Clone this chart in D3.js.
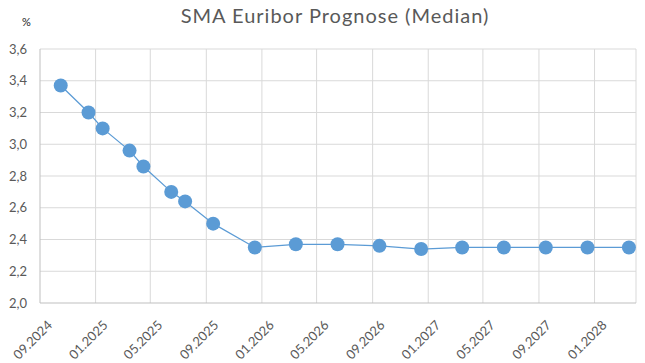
<!DOCTYPE html>
<html>
<head>
<meta charset="utf-8">
<script src="https://cdn.jsdelivr.net/npm/d3@7"></script>
<style>
body { margin: 0; background: #fff; }
text { font-family: Lato, "Liberation Sans", sans-serif; fill: #595959; }
</style>
</head>
<body>
<script>
var months = ["10.2024", "12.2024", "01.2025", "03.2025", "04.2025", "06.2025", "07.2025", "09.2025",
	"12.2025", "03.2026", "06.2026", "09.2026", "12.2026", "03.2027", "06.2027", "09.2027", "12.2027", "03.2028"]
var values = [3.37, 3.20, 3.10, 2.96, 2.86, 2.70, 2.64, 2.50,
	2.35, 2.37, 2.37, 2.36, 2.34, 2.35, 2.35, 2.35, 2.35, 2.35]
var tickLabels = ["09.2024", "01.2025", "05.2025", "09.2025", "01.2026", "05.2026",
	"09.2026", "01.2027", "05.2027", "09.2027", "01.2028"]
var yTicks = [2.0, 2.2, 2.4, 2.6, 2.8, 3.0, 3.2, 3.4, 3.6]
var title = "SMA Euribor Prognose (Median)"

var width = 645, height = 363
var margin = {left: 40, right: 9, top: 49, bottom: 60}

var parse = d3.timeParse("%m.%Y")

var svg = d3.select("body")
.append("svg")
.attr("width", width)
.attr("height", height);

var x = d3.scaleTime()
	.domain([parse(tickLabels[0]), d3.timeMonth.offset(parse("01.2028"), 3)])
	.range([margin.left, width - margin.right]);

var y = d3.scaleLinear()
	.domain([2.0, 3.6])
	.range([height - margin.bottom, margin.top]);

// points sit in the middle of their month
function xMid(m) {
	var d = parse(m)
	return (x(d) + x(d3.timeMonth.offset(d, 1))) / 2
}

// horizontal grid
svg.append("g")
	.selectAll("line")
	.data(yTicks.slice(1))
	.enter()
	.append("line")
		.attr("x1", margin.left)
		.attr("x2", width - margin.right)
		.attr("y1", function(d) { return y(d) })
		.attr("y2", function(d) { return y(d) })
		.attr("stroke", "#d9d9d9")
		.attr("stroke-width", 1);

// vertical grid
var vLines = tickLabels.slice(1).map(function(t) { return x(parse(t)) })
vLines.push(x.range()[1])
svg.append("g")
	.selectAll("line")
	.data(vLines)
	.enter()
	.append("line")
		.attr("x1", function(d) { return d })
		.attr("x2", function(d) { return d })
		.attr("y1", y(3.6))
		.attr("y2", y(2.0))
		.attr("stroke", "#d9d9d9")
		.attr("stroke-width", 1);

// axis lines
svg.append("line")
	.attr("x1", margin.left).attr("x2", margin.left)
	.attr("y1", y(3.6)).attr("y2", y(2.0))
	.attr("stroke", "#bfbfbf");
svg.append("line")
	.attr("x1", margin.left).attr("x2", width - margin.right)
	.attr("y1", y(2.0)).attr("y2", y(2.0))
	.attr("stroke", "#bfbfbf");

// y labels
svg.append("g")
	.selectAll("text")
	.data(yTicks)
	.enter()
	.append("text")
		.attr("x", 27)
		.attr("y", function(d) { return y(d) + 4.5 })
		.attr("text-anchor", "end")
		.style("font-size", "13px")
		.text(function(d) { return d.toFixed(1).replace(".", ",") });

// x labels
svg.append("g")
	.selectAll("text")
	.data(tickLabels)
	.enter()
	.append("text")
		.attr("transform", function(t) {
			return "translate(" + (x(parse(t)) + 13) + "," + 326 + ") rotate(-45)"
		})
		.attr("text-anchor", "end")
		.style("font-size", "13px")
		.text(function(t) { return t });

// line + markers
var line = d3.line()
	.x(function(d, i) { return xMid(months[i]) })
	.y(function(d) { return y(d) });

svg.append("path")
	.datum(values)
	.attr("d", line)
	.attr("fill", "none")
	.attr("stroke", "#5b9bd5")
	.attr("stroke-width", 1.25);

svg.append("g")
	.selectAll("circle")
	.data(values)
	.enter()
	.append("circle")
		.attr("cx", function(d, i) { return xMid(months[i]) })
		.attr("cy", function(d) { return y(d) })
		.attr("r", 7)
		.attr("fill", "#5b9bd5");

// title and unit
svg.append("text")
	.attr("x", 335)
	.attr("y", 23)
	.attr("text-anchor", "middle")
	.style("font-size", "20px")
	.style("letter-spacing", "1px")
	.text(title);

svg.append("text")
	.attr("x", 22)
	.attr("y", 26)
	.style("font-size", "11px")
	.style("fill", "#222")
	.text("%");
</script>
</body>
</html>
